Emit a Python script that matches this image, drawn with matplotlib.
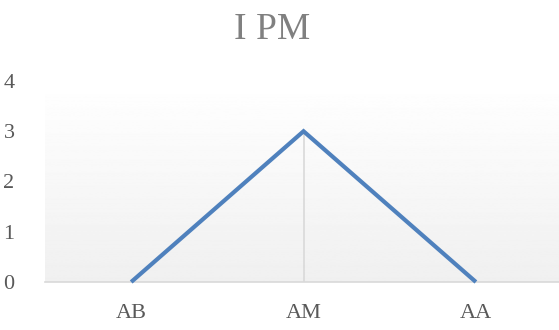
import numpy as np
import matplotlib
matplotlib.use("Agg")
import matplotlib.pyplot as plt

categories = ["AB", "AM", "AA"]
values = [0, 3, 0]
y_ticks = [0, 1, 2, 3, 4]

plt.rcParams["font.family"] = ["Liberation Serif", "DejaVu Serif"]

fig = plt.figure(figsize=(5.59, 3.30), dpi=100)
ax = fig.add_axes([0.0805, 0.1455, 0.925, 0.609])

x = np.arange(len(categories))
ax.set_xlim(-0.5, len(categories) - 0.5)
ax.set_ylim(0, 4)

# plot-area fill: white at the top fading to light grey at the bottom
grad = np.linspace(1.0, 0.94, 256).reshape(-1, 1)
ax.imshow(grad, cmap="gray", vmin=0, vmax=1, aspect="auto",
          extent=[0, 1, 0, 1], transform=ax.transAxes, zorder=0)

# drop line under the peak
peak = int(np.argmax(values))
ax.vlines(x[peak], 0, values[peak], color="#d9d9d9", linewidth=1.2, zorder=1)

ax.plot(x, values, color="#4F81BD", linewidth=3.0, solid_capstyle="butt",
        solid_joinstyle="miter", zorder=3, clip_on=False)

for side in ["top", "left", "right"]:
    ax.spines[side].set_visible(False)
ax.spines["bottom"].set_color("#d9d9d9")
ax.spines["bottom"].set_linewidth(1.2)

ax.set_xticks(x)
ax.set_xticklabels(categories)
ax.set_yticks(y_ticks)
ax.tick_params(axis="both", length=0, labelsize=16, colors="#595959")
ax.tick_params(axis="y", pad=22)
ax.tick_params(axis="x", pad=16)

fig.text(0.487, 0.91, "I PM", ha="center", va="center", fontsize=27, color="#808080")

fig.savefig("out.png", dpi=100)
